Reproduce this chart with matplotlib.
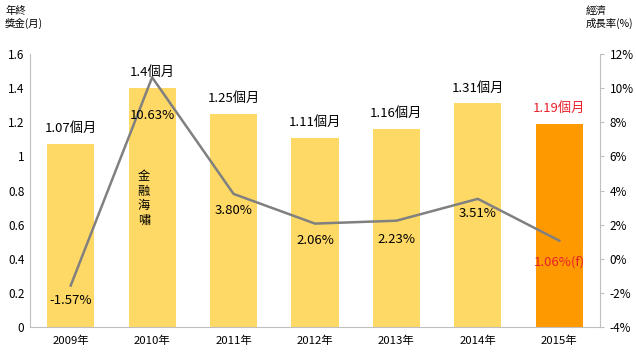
import matplotlib.pyplot as plt
import numpy as np

plt.rcParams['font.family'] = ['Noto Sans CJK TC', 'DejaVu Sans']

years = ['2009年', '2010年', '2011年', '2012年', '2013年', '2014年', '2015年']
bonus = [1.07, 1.4, 1.25, 1.11, 1.16, 1.31, 1.19]
growth = [-1.57, 10.63, 3.80, 2.06, 2.23, 3.51, 1.06]
bonus_labels = ['1.07個月', '1.4個月', '1.25個月', '1.11個月', '1.16個月', '1.31個月', '1.19個月']
growth_labels = ['-1.57%', '10.63%', '3.80%', '2.06%', '2.23%', '3.51%', '1.06%(f)']

light = '#FFD966'
orange = '#FF9900'
red = '#E8202A'
grey = '#808080'

fig = plt.figure(figsize=(6.36, 3.56), dpi=100)
ax = fig.add_axes([30 / 636, 29 / 356, 570 / 636, 273 / 356])
x = np.arange(len(years))
colors = [light] * (len(years) - 1) + [orange]
ax.bar(x, bonus, width=0.58, color=colors, zorder=1)
ax.set_xlim(-0.5, len(years) - 0.5)
ax.set_ylim(0, 1.6)
ax.set_yticks(np.arange(0, 1.61, 0.2))
ax.set_yticklabels(['0', '0.2', '0.4', '0.6', '0.8', '1', '1.2', '1.4', '1.6'])
ax.set_xticks(x)
ax.set_xticklabels(years)
ax.tick_params(axis='x', length=0, labelsize=8.2, pad=6)
ax.tick_params(axis='y', length=0, labelsize=8.5, pad=4)
for s in ['top', 'right']:
    ax.spines[s].set_visible(False)
for s in ['left', 'bottom']:
    ax.spines[s].set_color('#BFBFBF')

for i, (v, t) in enumerate(zip(bonus, bonus_labels)):
    ax.annotate(t, (i, v), xytext=(0, 6.5), textcoords='offset points',
                ha='center', va='bottom', fontsize=9.5,
                color=red if i == len(years) - 1 else 'black', zorder=5)

# vertical note on the 2010 bar
ax.text(0.9, 0.92, '金\n融\n海\n嘯', ha='center', va='top', fontsize=8.8,
        linespacing=1.15)

ax2 = ax.twinx()
ax2.plot(x, growth, color=grey, lw=1.8, zorder=3)
ax2.set_ylim(-4, 12)
ax2.set_yticks(np.arange(-4, 12.1, 2))
ax2.set_yticklabels([f'{int(v)}%' for v in np.arange(-4, 12.1, 2)])
ax2.tick_params(axis='y', direction='out', length=3, color='#BFBFBF', labelsize=8.5, pad=4)
for s in ['top', 'left', 'bottom']:
    ax2.spines[s].set_visible(False)
ax2.spines['right'].set_color('#BFBFBF')

offsets = [-15, -38, -17, -17, -19, -15, -21]
for i, (v, t) in enumerate(zip(growth, growth_labels)):
    ax2.annotate(t, (i, v), xytext=(0, offsets[i] * 0.72), textcoords='offset points',
                 ha='center', va='center', fontsize=9.5,
                 color=red if i == len(years) - 1 else 'black', zorder=5)

fig.text(5 / 636, 1 - 6 / 356, '年終\n獎金(月)', ha='left', va='top', fontsize=7.5,
         linespacing=1.2)
fig.text(586 / 636, 1 - 6 / 356, '經濟\n成長率(%)', ha='left', va='top', fontsize=7.5,
         linespacing=1.2)

fig.savefig('out.png', dpi=100)
